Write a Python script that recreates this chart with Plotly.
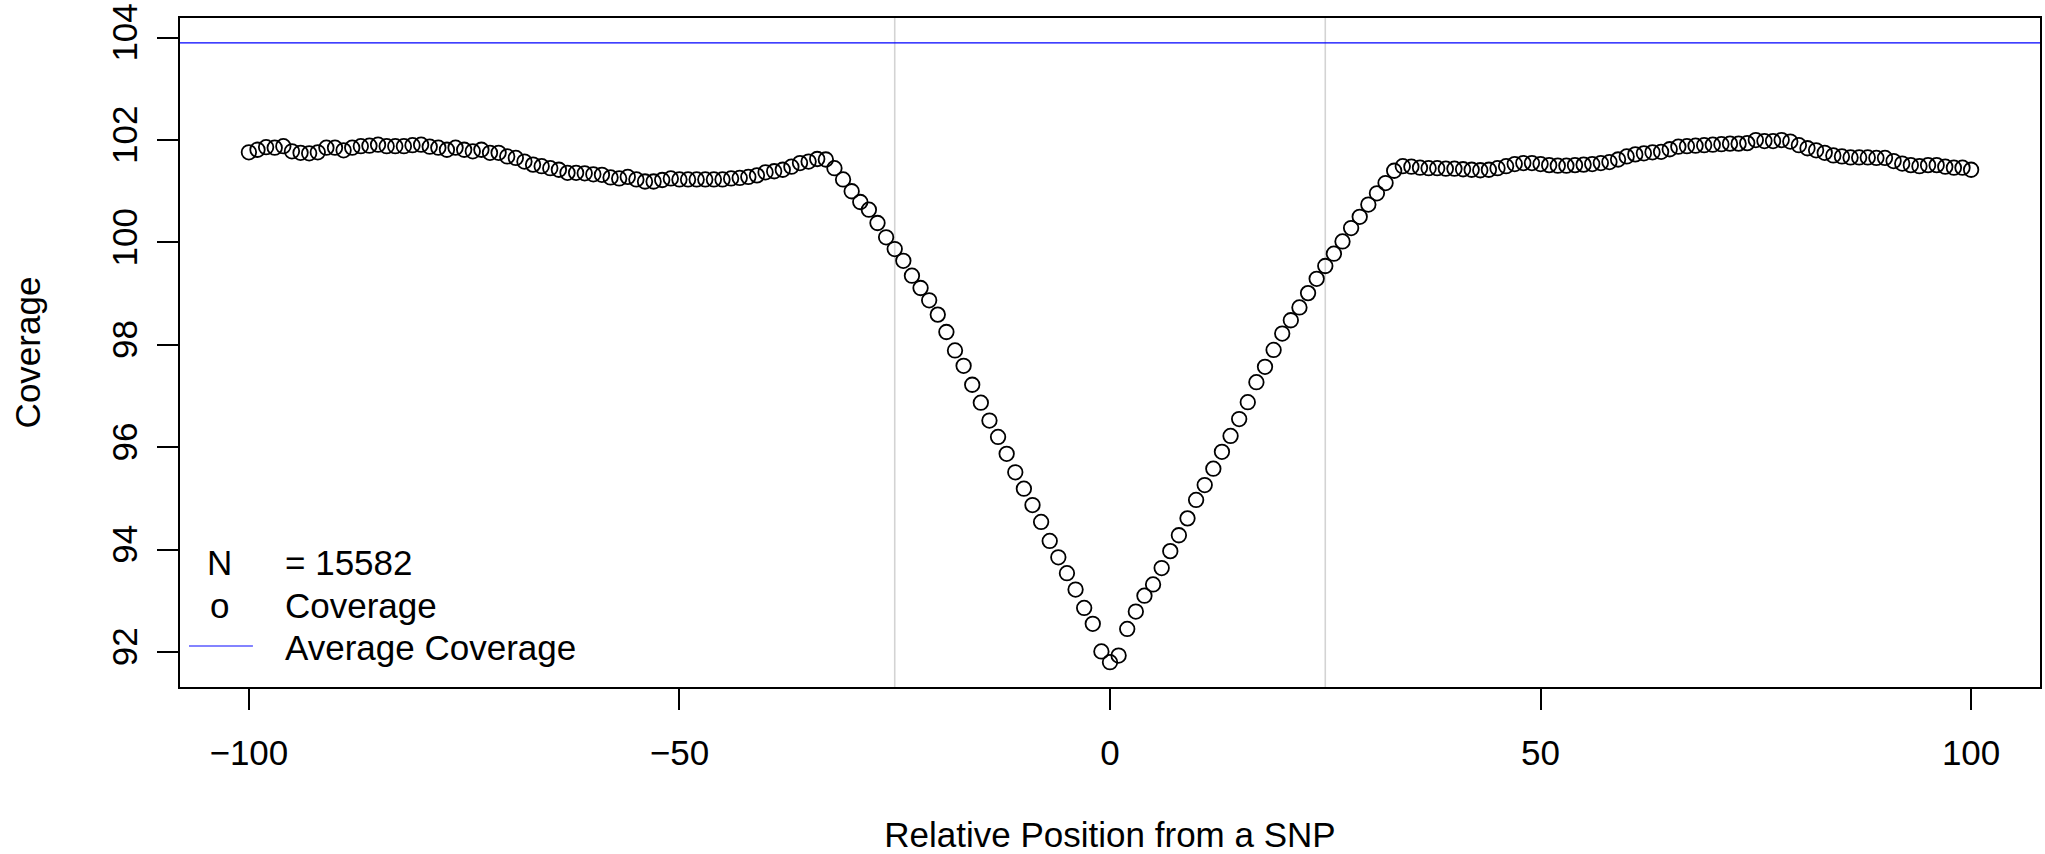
import plotly.graph_objects as go

# ---------------- data ----------------
positions = list(range(-100, 101))

coverage = [
    101.76, 101.81, 101.86, 101.85, 101.88, 101.78, 101.75, 101.74, 101.76, 101.85,   # -100..-91
    101.85, 101.80, 101.85, 101.88, 101.89, 101.91, 101.88, 101.88, 101.88, 101.90,   # -90..-81
    101.91, 101.87, 101.85, 101.81, 101.85, 101.81, 101.78, 101.81, 101.75, 101.75,   # -80..-71
    101.68, 101.65, 101.58, 101.52, 101.49, 101.45, 101.42, 101.36, 101.36, 101.35,   # -70..-61
    101.33, 101.32, 101.27, 101.25, 101.28, 101.23, 101.19, 101.19, 101.22, 101.25,   # -60..-51
    101.23, 101.23, 101.23, 101.23, 101.23, 101.23, 101.25, 101.26, 101.28, 101.31,   # -50..-41
    101.37, 101.39, 101.42, 101.48, 101.55, 101.58, 101.63, 101.62, 101.45, 101.23,   # -40..-31
    101.00, 100.79, 100.64, 100.38, 100.10, 99.87, 99.64, 99.35, 99.11, 98.87,        # -30..-21
    98.59, 98.25, 97.89, 97.59, 97.22, 96.87, 96.52, 96.20, 95.87, 95.51,             # -20..-11
    95.19, 94.87, 94.54, 94.17, 93.85, 93.54, 93.22, 92.86, 92.55, 92.01,             # -10..-1
    91.80, 91.93, 92.45, 92.79, 93.10, 93.32, 93.64, 93.97, 94.28, 94.61,             # 0..9
    94.97, 95.26, 95.58, 95.91, 96.22, 96.55, 96.88, 97.27, 97.57, 97.90,             # 10..19
    98.22, 98.48, 98.73, 99.01, 99.29, 99.54, 99.78, 100.02, 100.28, 100.50,          # 20..29
    100.74, 100.96, 101.16, 101.40, 101.49, 101.48, 101.46, 101.45, 101.45, 101.44,   # 30..39
    101.44, 101.43, 101.42, 101.41, 101.42, 101.45, 101.49, 101.53, 101.55, 101.55,   # 40..49
    101.53, 101.51, 101.50, 101.50, 101.51, 101.52, 101.53, 101.55, 101.57, 101.62,   # 50..59
    101.68, 101.72, 101.74, 101.76, 101.77, 101.82, 101.87, 101.88, 101.89, 101.90,   # 60..69
    101.91, 101.92, 101.93, 101.93, 101.94, 102.00, 101.98, 101.98, 102.00, 101.97,   # 70..79
    101.90, 101.84, 101.80, 101.75, 101.70, 101.68, 101.66, 101.66, 101.66, 101.65,   # 80..89
    101.65, 101.59, 101.54, 101.51, 101.49, 101.51, 101.51, 101.48, 101.46, 101.46,   # 90..99
    101.42,                                                                            # 100
]
assert len(coverage) == len(positions)

average_coverage = 103.90
n_snps = 15582
window_edges = [-25, 25]

x_ticks = [-100, -50, 0, 50, 100]
y_ticks = [92, 94, 96, 98, 100, 102, 104]

legend_symbols = ["N", "o", ""]
legend_labels = ["= %d" % n_snps, "Coverage", "Average Coverage"]

# ---------------- ranges (R style 4% padding) ----------------
xmin, xmax = min(positions), max(positions)
xpad = 0.04 * (xmax - xmin)
ylo = min(coverage + [average_coverage])
yhi = max(coverage + [average_coverage])
ypad = 0.04 * (yhi - ylo)

FONT = "Liberation Sans, Arial, Helvetica, sans-serif"
FS = 35

W, H = 2045, 854
ML, MR, MT, MB = 180, 3, 17, 167
PW, PH = W - ML - MR, H - MT - MB


def px(xpix):
    return (xpix - ML) / PW


def py(ypix):
    return (H - MB - ypix) / PH


fig = go.Figure()

fig.add_trace(go.Scatter(
    x=positions, y=coverage, mode="markers",
    marker=dict(symbol="circle-open", size=14.5, color="black",
                line=dict(color="black", width=1.8)),
    showlegend=False, hoverinfo="x+y",
))

for xe in window_edges:
    fig.add_vline(x=xe, line=dict(color="#d3d3d3", width=1.6), layer="below")

fig.add_hline(y=average_coverage, line=dict(color="#0000ff", width=1.2))

# legend (R-style, no box)
rows_y = [562, 605, 647]
for sym, lab, ry in zip(legend_symbols, legend_labels, rows_y):
    if sym:
        fig.add_annotation(xref="paper", yref="paper", x=px(220), y=py(ry),
                           text=sym, showarrow=False, xanchor="center", yanchor="middle",
                           font=dict(family=FONT, size=FS, color="black"))
    fig.add_annotation(xref="paper", yref="paper", x=px(283), y=py(ry),
                       text=lab, showarrow=False, xanchor="left", yanchor="middle",
                       font=dict(family=FONT, size=FS, color="black"))
fig.add_shape(type="line", xref="paper", yref="paper",
              x0=px(189), x1=px(253), y0=py(646), y1=py(646),
              line=dict(color="#5a5aff", width=1.5))

fig.update_layout(
    width=W, height=H,
    margin=dict(l=ML, r=MR, t=MT, b=MB, pad=0),
    paper_bgcolor="white", plot_bgcolor="white",
    font=dict(family=FONT, size=FS, color="black"),
    showlegend=False,
)

fig.update_xaxes(
    range=[xmin - xpad, xmax + xpad],
    tickmode="array", tickvals=x_ticks, ticktext=["\u2212100", "\u221250", "0", "50", "100"],
    ticks="outside", ticklen=21, tickwidth=1.5, tickcolor="black",
    showgrid=False, zeroline=False,
    showline=True, linecolor="black", linewidth=2, mirror=True,
    tickfont=dict(family=FONT, size=FS, color="black"),
    ticklabelstandoff=13,
    title=dict(text="Relative Position from a SNP", standoff=51,
               font=dict(family=FONT, size=FS, color="black")),
)
fig.update_yaxes(
    range=[ylo - ypad, yhi + ypad],
    tickmode="array", tickvals=y_ticks, ticktext=[str(v) for v in y_ticks],
    ticks="outside", ticklen=21, tickwidth=1.5, tickcolor="black", tickangle=-90,
    showgrid=False, zeroline=False,
    showline=True, linecolor="black", linewidth=2, mirror=True,
    tickfont=dict(family=FONT, size=FS, color="black"),
    ticklabelstandoff=6,
    title=dict(text="Coverage", standoff=54,
               font=dict(family=FONT, size=FS, color="black")),
)

fig.write_html("out.html")
